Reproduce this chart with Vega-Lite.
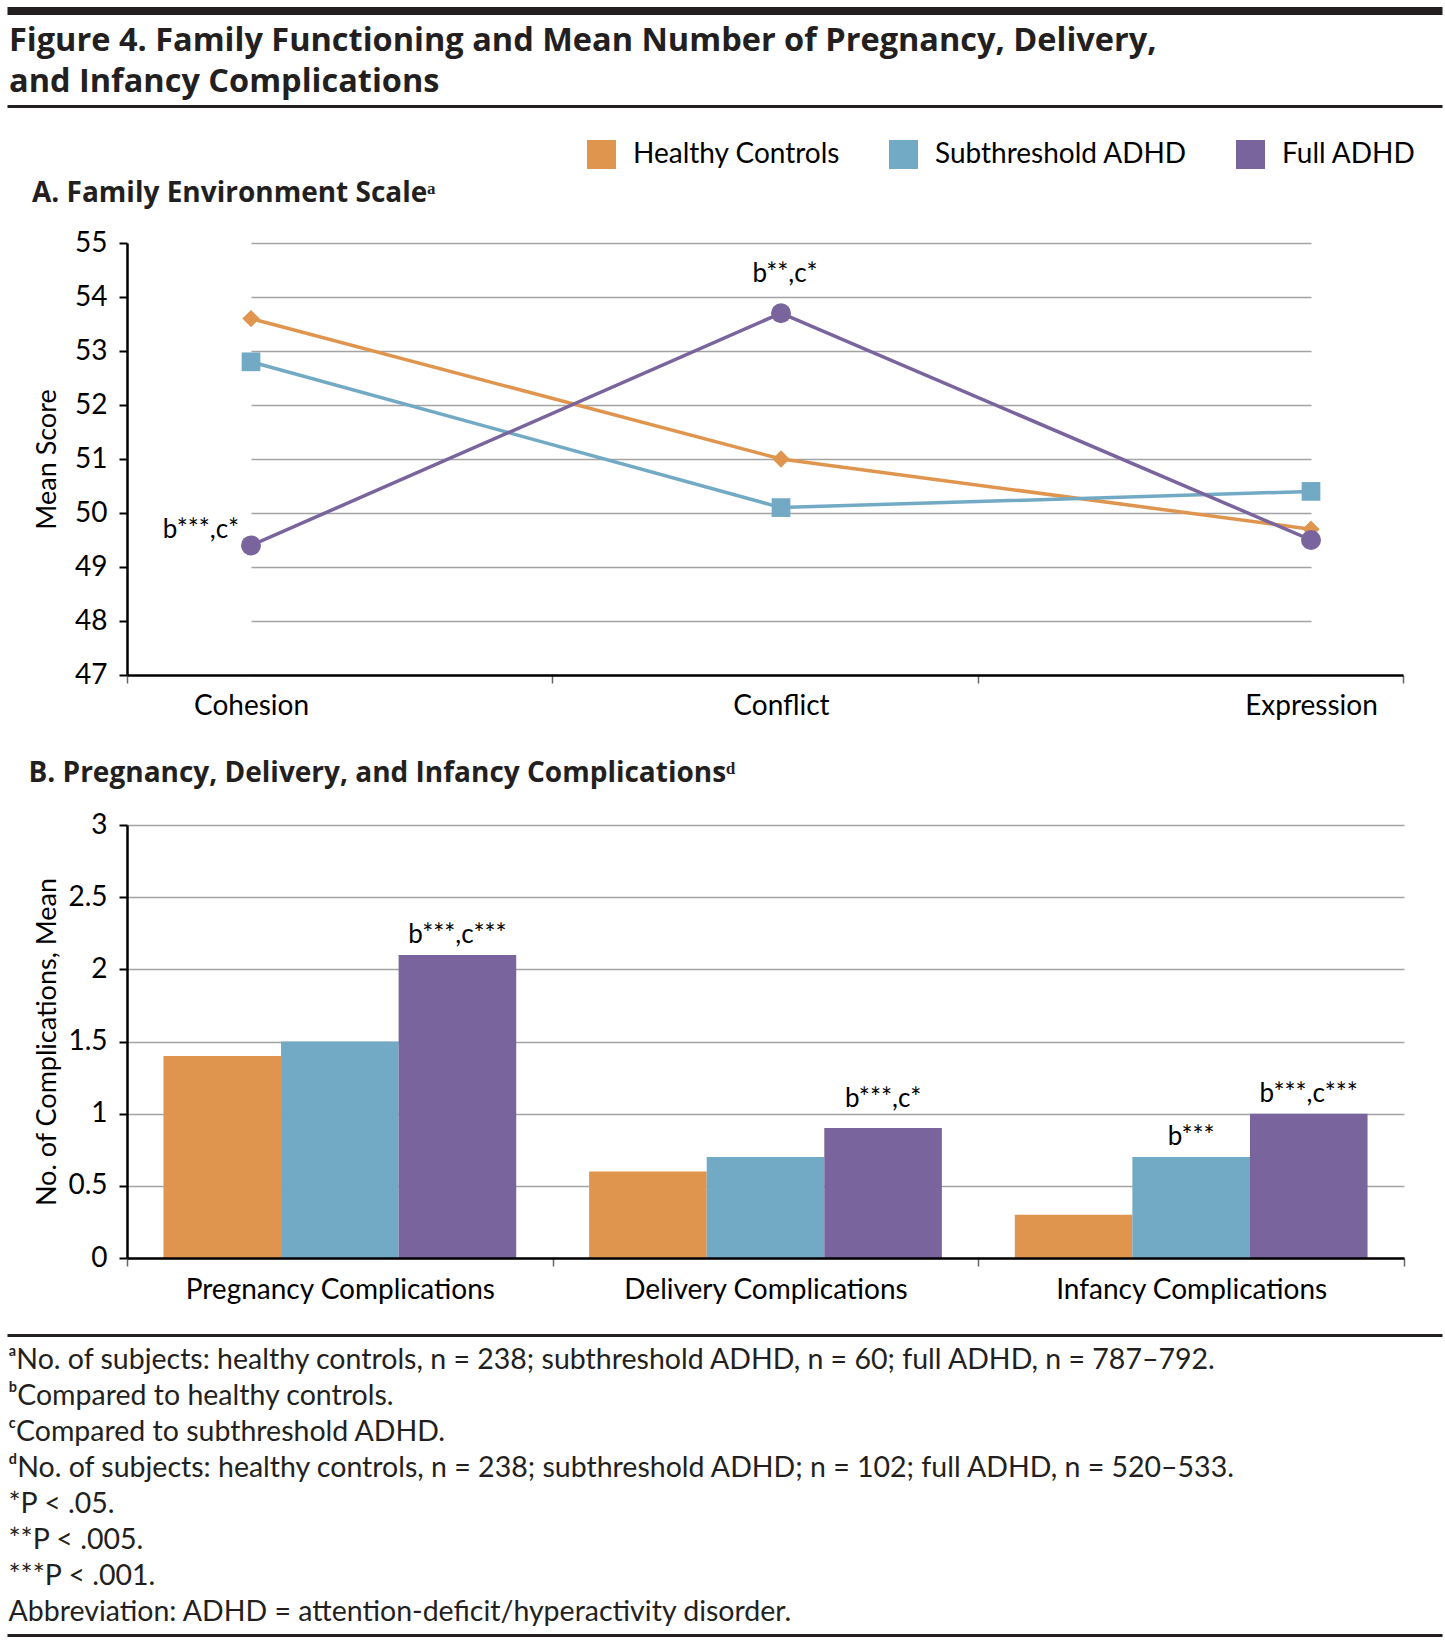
{
  "$schema": "https://vega.github.io/schema/vega-lite/v6.json",
  "padding": {"left": 7, "top": 7, "right": 3, "bottom": 4},
  "background": "white",
  "config": {
    "font": "Lato",
    "view": {"stroke": null},
    "title": {"color": "black", "font": "Lato"},
    "axis": {"labelColor": "black", "titleColor": "black", "labelFont": "Lato", "titleFont": "Lato"},
    "text": {"font": "Lato", "color": "black"},
    "legend": {"labelFont": "Lato", "labelColor": "black"}
  },
  "resolve": {"legend": {"color": "independent"}},
  "spacing": 10,
  "vconcat": [
    {
      "width": 1315.5, "height": 8,
      "data": {"values": [{}]},
      "mark": {"type": "rect", "color": "#231f20"},
      "encoding": {
        "x": {"datum": 0, "type": "quantitative", "scale": {"domain": [0, 1], "range": [-119.5, 1315.5]}, "axis": null},
        "x2": {"datum": 1}
      }
    },
    {
      "spacing": 11,
      "resolve": {"legend": {"color": "independent"}},
      "vconcat": [
        {
          "width": 1315.5, "height": 3,
          "title": {
            "text": ["Figure 4. Family Functioning and Mean Number of Pregnancy, Delivery,", "and Infancy Complications"],
            "anchor": "start", "frame": "group", "dx": -118, "font": "Open Sans", "fontSize": 32.5, "fontWeight": "bold", "lineHeight": 41, "offset": 5, "color": "#231f20"
          },
          "layer": [
            {
              "data": {"values": [{}]},
              "mark": {"type": "rect", "color": "#231f20"},
              "encoding": {
                "x": {"datum": 0, "type": "quantitative", "scale": {"domain": [0, 1], "range": [-119.5, 1315.5]}, "axis": null},
                "x2": {"datum": 1}
              }
            },
            {
              "data": {"values": [{"group": "Healthy Controls"}, {"group": "Subthreshold ADHD"}, {"group": "Full ADHD"}]},
              "mark": {"type": "square", "opacity": 0},
              "encoding": {
                "color": {
                  "field": "group", "type": "nominal",
                  "scale": {"domain": ["Healthy Controls", "Subthreshold ADHD", "Full ADHD"], "range": ["#E0954F", "#72AAC5", "#7A649E"]},
                  "legend": {
                    "orient": "none", "legendX": 460, "legendY": 35, "direction": "horizontal", "title": null,
                    "symbolType": "square", "symbolSize": 841, "symbolStrokeWidth": 0, "symbolOpacity": 1,
                    "labelFontSize": 28, "labelOffset": 17, "columnPadding": 48, "padding": 0, "labelLimit": 0
                  }
                }
              }
            }
          ]
        },
        {
          "spacing": 30,
          "resolve": {"legend": {"color": "independent"}},
          "vconcat": [
            {
              "spacing": 40,
              "resolve": {"legend": {"color": "independent"}},
              "vconcat": [
                {
                  "width": 1276, "height": 432,
                  "title": {"text": "A. Family Environment Scaleᵃ", "anchor": "start", "frame": "group", "dx": -95, "offset": 21, "font": "Open Sans", "fontSize": 28, "fontWeight": "bold", "color": "#231f20"},
                  "data": {"values": [
                    {"scale": "Cohesion", "group": "Healthy Controls", "score": 53.6},
                    {"scale": "Conflict", "group": "Healthy Controls", "score": 51.0},
                    {"scale": "Expression", "group": "Healthy Controls", "score": 49.7},
                    {"scale": "Cohesion", "group": "Subthreshold ADHD", "score": 52.8},
                    {"scale": "Conflict", "group": "Subthreshold ADHD", "score": 50.1},
                    {"scale": "Expression", "group": "Subthreshold ADHD", "score": 50.4},
                    {"scale": "Cohesion", "group": "Full ADHD", "score": 49.4, "note": "b***,c*"},
                    {"scale": "Conflict", "group": "Full ADHD", "score": 53.7, "note": "b**,c*"},
                    {"scale": "Expression", "group": "Full ADHD", "score": 49.5}
                  ]},
                  "layer": [
                    {
                      "encoding": {
                        "x": {
                          "field": "scale", "type": "nominal", "sort": ["Cohesion", "Conflict", "Expression"],
                          "scale": {"type": "point", "range": [124, 1184], "padding": 0},
                          "axis": {"orient": "bottom", "title": null, "domain": false, "ticks": false, "tickSize": 0, "grid": false, "labelAngle": 0, "labelFontSize": 28, "labelPadding": 17, "labelLimit": 0}
                        },
                        "y": {
                          "field": "score", "type": "quantitative",
                          "scale": {"domain": [47, 55], "nice": false, "zero": false},
                          "axis": {
                            "orient": "left", "title": "Mean Score", "values": [47, 48, 49, 50, 51, 52, 53, 54, 55],
                            "grid": true, "gridColor": "#a3a3a3", "gridWidth": 1.5,
                            "domainColor": "black", "domainWidth": 2.5, "tickColor": "black", "tickWidth": 2, "tickSize": 8,
                            "labelFontSize": 28, "labelPadding": 12, "titleFontSize": 27, "titleFontWeight": "normal", "titlePadding": 13
                          }
                        },
                        "color": {
                          "field": "group", "type": "nominal",
                          "scale": {"domain": ["Healthy Controls", "Subthreshold ADHD", "Full ADHD"], "range": ["#E0954F", "#72AAC5", "#7A649E"]},
                          "legend": null
                        }
                      },
                      "layer": [
                        {"mark": {"type": "line", "strokeWidth": 3.5}},
                        {
                          "mark": {"type": "point", "filled": true, "opacity": 1},
                          "encoding": {
                            "shape": {"field": "group", "type": "nominal", "scale": {"domain": ["Healthy Controls", "Subthreshold ADHD", "Full ADHD"], "range": ["diamond", "square", "circle"]}, "legend": null},
                            "size": {"field": "group", "type": "ordinal", "scale": {"domain": ["Healthy Controls", "Subthreshold ADHD", "Full ADHD"], "range": [300, 400, 400]}, "legend": null}
                          }
                        },
                        {
                          "transform": [{"filter": "datum.scale === 'Cohesion' && datum.note"}],
                          "mark": {"type": "text", "align": "right", "baseline": "alphabetic", "dx": -12, "dy": -7, "fontSize": 26},
                          "encoding": {"text": {"field": "note"}, "color": {"value": "black"}}
                        },
                        {
                          "transform": [{"filter": "datum.scale === 'Conflict' && datum.note"}],
                          "mark": {"type": "text", "align": "center", "baseline": "alphabetic", "dx": 4, "dy": -31, "fontSize": 26},
                          "encoding": {"text": {"field": "note"}, "color": {"value": "black"}}
                        }
                      ]
                    },
                    {
                      "mark": {"type": "point", "opacity": 0},
                      "encoding": {
                        "x": {
                          "field": "scale", "type": "nominal", "sort": ["Cohesion", "Conflict", "Expression"],
                          "scale": {"type": "band", "paddingInner": 0, "paddingOuter": 0},
                          "axis": {"orient": "bottom", "title": null, "labels": false, "grid": false, "domain": true, "domainColor": "black", "domainWidth": 2.5, "ticks": true, "tickBand": "extent", "tickSize": 8, "tickColor": "#666666", "tickWidth": 1.5, "zindex": 1}
                        },
                        "y": {
                          "field": "score", "type": "quantitative",
                          "axis": {"orient": "left", "offset": 119, "title": null, "labels": false, "ticks": false, "grid": false, "domain": true, "domainOpacity": 0, "domainWidth": 1}
                        }
                      }
                    }
                  ],
                  "resolve": {"scale": {"x": "independent"}, "axis": {"x": "independent", "y": "independent"}}
                },
                {
                  "width": 1277, "height": 433,
                  "title": {"text": "B. Pregnancy, Delivery, and Infancy Complicationsᵈ", "anchor": "start", "frame": "group", "dx": -98.5, "offset": 23, "font": "Open Sans", "fontSize": 28, "fontWeight": "bold", "color": "#231f20"},
                  "data": {"values": [
                    {"comp": "Pregnancy Complications", "group": "Healthy Controls", "value": 1.4},
                    {"comp": "Pregnancy Complications", "group": "Subthreshold ADHD", "value": 1.5},
                    {"comp": "Pregnancy Complications", "group": "Full ADHD", "value": 2.1, "note": "b***,c***"},
                    {"comp": "Delivery Complications", "group": "Healthy Controls", "value": 0.6},
                    {"comp": "Delivery Complications", "group": "Subthreshold ADHD", "value": 0.7},
                    {"comp": "Delivery Complications", "group": "Full ADHD", "value": 0.9, "note": "b***,c*"},
                    {"comp": "Infancy Complications", "group": "Healthy Controls", "value": 0.3},
                    {"comp": "Infancy Complications", "group": "Subthreshold ADHD", "value": 0.7, "note": "b***"},
                    {"comp": "Infancy Complications", "group": "Full ADHD", "value": 1.0, "note": "b***,c***"}
                  ]},
                  "encoding": {
                    "x": {
                      "field": "comp", "type": "nominal", "sort": ["Pregnancy Complications", "Delivery Complications", "Infancy Complications"],
                      "scale": {"paddingInner": 0, "paddingOuter": 0},
                      "axis": {"title": null, "labelAngle": 0, "labelFontSize": 28, "labelPadding": 10, "labelLimit": 0, "tickBand": "extent", "tickSize": 8, "tickColor": "#666666", "tickWidth": 1.5, "domainColor": "black", "domainWidth": 2.5, "grid": false, "zindex": 1}
                    },
                    "xOffset": {
                      "field": "group", "type": "nominal", "sort": ["Healthy Controls", "Subthreshold ADHD", "Full ADHD"],
                      "scale": {"paddingInner": 0, "paddingOuter": 0.31}
                    }
                  },
                  "layer": [
                    {
                      "mark": {"type": "bar"},
                      "encoding": {
                        "y": {
                          "field": "value", "type": "quantitative",
                          "scale": {"domain": [0, 3], "nice": false},
                          "axis": {
                            "orient": "left", "title": "No. of Complications, Mean", "values": [0, 0.5, 1, 1.5, 2, 2.5, 3], "format": "~g",
                            "grid": true, "gridColor": "#a3a3a3", "gridWidth": 1.5,
                            "domainColor": "black", "domainWidth": 2.5, "tickColor": "black", "tickWidth": 2, "tickSize": 8,
                            "labelFontSize": 28, "labelPadding": 12, "titleFontSize": 27, "titleFontWeight": "normal", "titlePadding": 6
                          }
                        },
                        "color": {
                          "field": "group", "type": "nominal",
                          "scale": {"domain": ["Healthy Controls", "Subthreshold ADHD", "Full ADHD"], "range": ["#E0954F", "#72AAC5", "#7A649E"]},
                          "legend": null
                        }
                      }
                    },
                    {
                      "transform": [{"filter": "datum.note && datum.comp !== 'Delivery Complications'"}],
                      "mark": {"type": "text", "align": "center", "baseline": "alphabetic", "dy": -12, "fontSize": 26},
                      "encoding": {
                        "text": {"field": "note"},
                        "y": {
                          "field": "value", "type": "quantitative",
                          "axis": {"orient": "left", "offset": 119, "title": null, "labels": false, "ticks": false, "grid": false, "domain": true, "domainOpacity": 0, "domainWidth": 1}
                        }
                      }
                    },
                    {
                      "transform": [{"filter": "datum.note && datum.comp === 'Delivery Complications'"}],
                      "mark": {"type": "text", "align": "center", "baseline": "alphabetic", "dy": -21, "fontSize": 26},
                      "encoding": {
                        "text": {"field": "note"},
                        "y": {"field": "value", "type": "quantitative", "axis": null}
                      }
                    }
                  ],
                  "resolve": {"axis": {"y": "independent"}}
                }
              ]
            },
            {
              "spacing": 8,
              "vconcat": [
                {
                  "width": 1315.5, "height": 3,
                  "data": {"values": [{}]},
                  "mark": {"type": "rect", "color": "#231f20"},
                  "encoding": {
                    "x": {"datum": 0, "type": "quantitative", "scale": {"domain": [0, 1], "range": [-119.5, 1315.5]}, "axis": null},
                    "x2": {"datum": 1}
                  }
                },
                {
                  "width": 1315.5, "height": 3,
                  "title": {
                    "text": [
                      "ᵃNo. of subjects: healthy controls, n = 238; subthreshold ADHD, n = 60; full ADHD, n = 787–792.",
                      "ᵇCompared to healthy controls.",
                      "ᶜCompared to subthreshold ADHD.",
                      "ᵈNo. of subjects: healthy controls, n = 238; subthreshold ADHD; n = 102; full ADHD, n = 520–533.",
                      "*P < .05.",
                      "**P < .005.",
                      "***P < .001.",
                      "Abbreviation: ADHD = attention-deficit/hyperactivity disorder."
                    ],
                    "anchor": "start", "frame": "group", "dx": -118.5, "fontSize": 28.5, "fontWeight": "normal", "lineHeight": 36, "offset": 8, "color": "#231f20"
                  },
                  "data": {"values": [{}]},
                  "mark": {"type": "rect", "color": "#231f20"},
                  "encoding": {
                    "x": {"datum": 0, "type": "quantitative", "scale": {"domain": [0, 1], "range": [-119.5, 1315.5]}, "axis": null},
                    "x2": {"datum": 1}
                  }
                }
              ]
            }
          ]
        }
      ]
    }
  ]
}
